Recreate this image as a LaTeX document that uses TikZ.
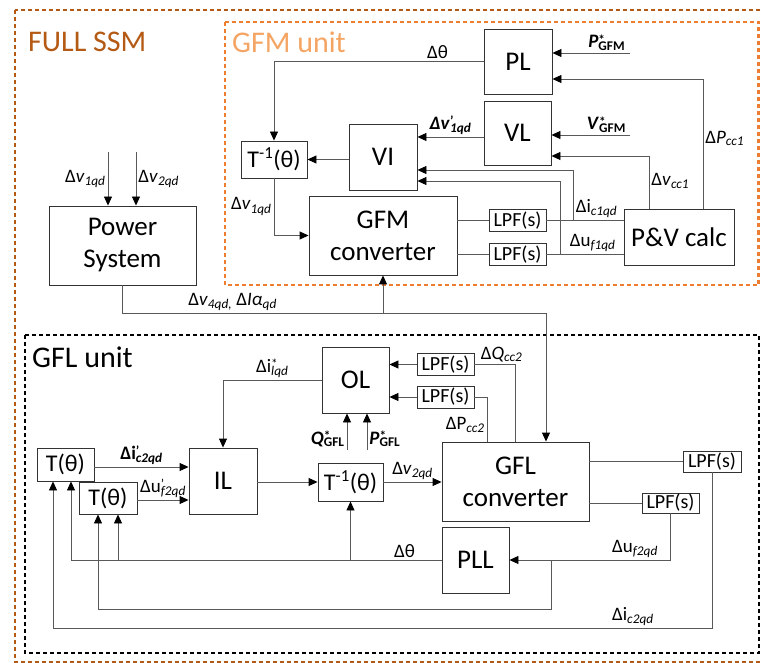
\documentclass[tikz,border=0pt]{standalone}
\usepackage{fontspec}
\setmainfont{Carlito}
\usetikzlibrary{positioning,arrows.meta,calc}

\definecolor{ssmbrown}{RGB}{180,90,20}
\definecolor{gfmorange}{RGB}{237,125,49}
\definecolor{gfmtext}{RGB}{244,165,100}
\definecolor{wiregray}{RGB}{89,89,89}

\newcommand{\fsz}[2]{\fontsize{#1}{#2}\selectfont}
\newcommand{\sbs}[1]{\textsubscript{\itshape #1}}
\newcommand{\supsub}[2]{\rlap{\raisebox{-0.15em}{\textsuperscript{#1}}}\textsubscript{#2}}

\begin{document}
\begin{tikzpicture}[
  x=1pt,y=-1pt,
  blk/.style={draw=black!80,line width=0.9pt,inner sep=0pt,align=center,font=\fsz{27}{32}},
  lpf/.style={blk,minimum width=57pt,minimum height=22pt,font=\fsz{20}{22}},
  tbox/.style={blk,font=\fsz{24}{26}},
  wire/.style={draw=wiregray,line width=0.9pt},
  arr/.style={wire,-{Triangle[length=9pt,width=8pt,color=black]}},
  lbl/.style={font=\fsz{19}{21},inner sep=2pt},
  unitbox/.style={line width=2.4pt,dash pattern=on 4pt off 3pt},
  unittitle/.style={font=\fsz{30}{32},anchor=west,inner sep=0pt},
]
\useasboundingbox (0,0) rectangle (761,663);

% === UNIT FRAMES ===
\draw[unitbox,ssmbrown] (15,10) rectangle (768,662);
\draw[unitbox,gfmorange] (225,22) rectangle (758.5,285);
\draw[unitbox,black] (25,335) rectangle (759,653);
\node[unittitle,text=ssmbrown] (ssmtitle) at (28,42) {FULL SSM};
\node[unittitle,text=gfmtext] (gfmtitle) at (232,42) {GFM unit};
\node[unittitle] (gfltitle) at (32,357) {GFL unit};

% === GFM UNIT ===
\node[blk,minimum width=68pt,minimum height=65pt] (PL) at (518,61.5) {PL};
\node[blk,minimum width=67pt,minimum height=64pt] (VL) at (517.5,133) {VL};
\node[blk,minimum width=68pt,minimum height=66pt] (VI) at (383,157) {VI};
\node[tbox,minimum width=66pt,minimum height=37pt] (Tinv1) at (274,159.5) {T\textsuperscript{-1}(θ)};
\node[blk,minimum width=148pt,minimum height=79pt] (gfmconv) at (383,235.5) {GFM\\converter};
\node[lpf] (lpfA) at (517.5,220.5) {LPF(s)};
\node[lpf] (lpfB) at (517.5,254.5) {LPF(s)};
\node[blk,minimum width=110pt,minimum height=56pt] (pv) at (679,237) {P\&V calc};

\coordinate (pgfm) at (630,53);
\coordinate (vgfm) at (630,135);

\draw[arr] (PL.west) -| node[lbl,above,pos=0.11] {Δθ} (Tinv1.north);
\draw[arr] (pgfm) -- node[lbl,above,pos=0.3] {\textbf{\textit{P}\supsub{*}{GFM}}} (PL.east |- pgfm);
\draw[arr] (pv.north -| 703,0) |- node[lbl,right,pos=0.27] {Δ\textit{P}\sbs{cc1}} (PL.east |- 0,79);
\draw[arr] (vgfm) -- node[lbl,above,pos=0.3] {\textbf{\textit{V}\supsub{*}{GFM}}} (VL.east |- vgfm);
\draw[arr] (pv.north -| 649,0) |- node[lbl,right,pos=0.26] {Δ\textit{v}\sbs{cc1}} (VL.east |- 0,156);
\draw[arr] (VL.west |- 0,137) -- node[lbl,above] {\textbf{\textit{Δv}\supsub{’}{\itshape 1qd}}} (VI.east |- 0,137);
\draw[wire] (lpfA.east) -- node[lbl,above,pos=0.65] {Δi\sbs{c1qd}} (pv.west |- lpfA.east);
\draw[arr] (lpfA.east -| 573,0) |- (VI.east |- 0,170);
\draw[wire] (lpfB.east) -- node[lbl,above,pos=0.6] {Δu\sbs{f1qd}} (pv.west |- lpfB.east);
\draw[arr] (lpfB.east -| 560,0) |- (VI.east |- 0,181);
\draw[wire] (gfmconv.east |- lpfA.west) -- (lpfA.west);
\draw[wire] (gfmconv.east |- lpfB.west) -- (lpfB.west);
\draw[arr] (VI.west |- Tinv1.east) -- (Tinv1.east);
\draw[arr] (Tinv1.south) |- node[lbl,left,pos=0.245] {Δ\textit{v}\sbs{1qd}} (gfmconv.west);

% === POWER SYSTEM ===
\node[blk,minimum width=147pt,minimum height=79pt] (psys) at (122.5,245.5) {Power\\System};
\coordinate (v1in) at (108,152);
\coordinate (v2in) at (136,152);
\coordinate (bus) at (546,313);
\draw[arr] (v1in) -- node[lbl,left] {Δ\textit{v}\sbs{1qd}} (v1in |- psys.north);
\draw[arr] (v2in) -- node[lbl,right] {Δ\textit{v}\sbs{2qd}} (v2in |- psys.north);
\draw[wire] (psys.south) |- node[lbl,above,pos=0.63] {Δ\textit{v}\sbs{4qd,} Δ\textit{Iα}\sbs{qd}} (bus);

% === GFL UNIT ===
\node[blk,minimum width=67pt,minimum height=66pt] (OL) at (355.5,380) {OL};
\node[lpf] (lpfC) at (445.5,364.5) {LPF(s)};
\node[lpf] (lpfD) at (445.5,397) {LPF(s)};
\node[blk,minimum width=147pt,minimum height=79pt] (gflconv) at (515.5,481.5) {GFL\\converter};
\node[lpf,minimum width=58pt,minimum height=21pt] (lpfE) at (712,461.5) {LPF(s)};
\node[lpf,minimum height=20pt] (lpfF) at (670.5,503) {LPF(s)};
\node[blk,minimum width=67pt,minimum height=66pt] (PLL) at (475.5,560) {PLL};
\node[tbox,minimum width=57pt,minimum height=33pt] (Ta) at (65.5,464.5) {T(θ)};
\node[tbox,minimum width=58pt,minimum height=32pt] (Tb) at (108,498) {T(θ)};
\node[blk,minimum width=68pt,minimum height=66pt] (IL) at (223,481) {IL};
\node[tbox,minimum width=65pt,minimum height=38pt] (Tinv2) at (350.5,482) {T\textsuperscript{-1}(θ)};

\coordinate (qin) at (347,450);
\coordinate (pin) at (367,450);
\coordinate (ta1) at ([xshift=-12.5pt]Ta.south);
\coordinate (ta2) at ([xshift=5.5pt]Ta.south);
\coordinate (tb1) at ([xshift=-10pt]Tb.south);
\coordinate (tb2) at ([xshift=10pt]Tb.south);

\draw[arr] (bus) -- (bus |- gflconv.north);
\draw[arr] (gfmconv.south |- bus) -- (gfmconv.south);

\draw[arr] (OL.west) -| node[lbl,above,pos=0.25] {Δi\supsub{*}{\itshape lqd}} (IL.north);
\draw[arr] (lpfC.west) -- (OL.east |- lpfC.west);
\draw[arr] (lpfD.west) -- (OL.east |- lpfD.west);
\draw[wire] (lpfC.east) -| node[lbl,above,pos=0.33] {Δ\textit{Q}\sbs{cc2}} (gflconv.north);
\draw[wire] (lpfD.east) -| node[lbl,left,pos=0.81] {ΔP\sbs{cc2}} (gflconv.north -| 487,0);
\draw[arr] (qin) -- node[lbl,left,pos=0.3] {\textbf{\textit{Q}\supsub{*}{GFL}}} (qin |- OL.south);
\draw[arr] (pin) -- node[lbl,right,pos=0.3] {\textbf{\textit{P}\supsub{*}{GFL}}} (pin |- OL.south);

\draw[arr] (Ta.east |- 0,467) -- node[lbl,above] {\textbf{Δi\supsub{’}{\itshape c2qd}}} (IL.west |- 0,467);
\draw[arr] (Tb.east |- 0,500) -- node[lbl,above] {Δu\supsub{’}{\itshape f2qd}} (IL.west |- 0,500);
\draw[arr] (IL.east |- Tinv2.west) -- (Tinv2.west);
\draw[arr] (Tinv2.east) -- node[lbl,above] {Δ\textit{v}\sbs{2qd}} (gflconv.west |- Tinv2.east);
\draw[wire] (gflconv.east |- lpfE.west) -- (lpfE.west);
\draw[wire] (gflconv.east |- lpfF.west) -- (lpfF.west);

% Feedback to the transforms
\draw[arr] (lpfF.south) |- node[lbl,above,pos=0.61] {Δu\sbs{f2qd}} (PLL.east);
\draw[arr] (PLL.east -| 551,0) |- (tb1 |- 0,609) -- (tb1);
\draw[arr] (lpfE.south) |- node[lbl,above,pos=0.56] {Δi\sbs{c2qd}} (ta1 |- 0,628) -- (ta1);
\draw[arr] (PLL.west) -| node[lbl,above,pos=0.05] {Δθ} (ta2);
\draw[arr] (tb2 |- PLL.west) -- (tb2);
\draw[arr] (Tinv2.south |- PLL.west) -- (Tinv2.south);

\end{tikzpicture}
\end{document}
